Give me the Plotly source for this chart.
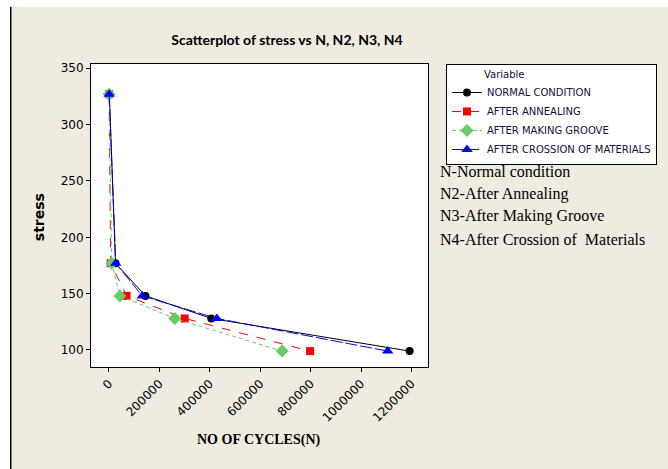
import plotly.graph_objects as go

stress = [327, 177, 148, 128, 99]
n_normal = [1500, 26000, 145000, 406000, 1193000]
n_anneal = [500, 6700, 70000, 300600, 798000]
n_groove = [800, 11000, 43500, 261000, 687000]
n_cross = [1000, 27000, 132000, 428000, 1106000]

series_names = ["NORMAL CONDITION", "AFTER ANNEALING", "AFTER MAKING GROOVE",
                "AFTER CROSSION OF MATERIALS"]
x_ticks = [0, 200000, 400000, 600000, 800000, 1000000, 1200000]
y_ticks = [100, 150, 200, 250, 300, 350]
note_lines = ["N-Normal condition", "N2-After Annealing", "N3-After Making Groove",
              "N4-After Crossion of&nbsp; Materials"]

W, H = 668, 469
L, R, T, B = 91, 429, 64, 367


def px(xp):
    return (xp - L) / (R - L)


def py(yp):
    return (B - yp) / (B - T)


styles = [
    dict(color="black", dash="solid", symbol="circle", size=8),
    dict(color="#FF0000", dash="dash", symbol="square", size=8),
    dict(color="#66CC66", dash="4px,3px", symbol="diamond", size=10),
    dict(color="#0000FF", dash="12px,3px", symbol="triangle-up", size=10),
]
xs = [n_normal, n_anneal, n_groove, n_cross]

fig = go.Figure()
for name, xv, st in zip(series_names, xs, styles):
    fig.add_trace(go.Scatter(
        x=xv, y=stress, name=name, mode="lines+markers",
        line=dict(color=st["color"], dash=st["dash"], width=1),
        marker=dict(color=st["color"], symbol=st["symbol"], size=st["size"]),
    ))

beige = "#EFEBE1"
shapes = [
    dict(type="rect", xref="paper", yref="paper", x0=px(-5), x1=px(10), y0=py(480), y1=py(-5),
         fillcolor="white", line=dict(width=0), layer="below"),
    dict(type="rect", xref="paper", yref="paper", x0=px(-5), x1=px(680), y0=py(7), y1=py(-5),
         fillcolor="white", line=dict(width=0), layer="below"),
    dict(type="line", xref="paper", yref="paper", x0=px(10.5), x1=px(10.5), y0=py(480), y1=py(7),
         line=dict(color="black", width=1.5)),
]

annotations = [
    dict(text="<b>NO OF CYCLES(N)</b>", xref="paper", yref="paper", x=px(258.5), y=py(440),
         showarrow=False, xanchor="center", yanchor="middle",
         font=dict(family="Liberation Serif", size=14, color="black")),
    dict(text="<b>stress</b>", xref="paper", yref="paper", x=px(39), y=py(217),
         showarrow=False, textangle=-90, xanchor="center", yanchor="middle",
         font=dict(family="DejaVu Sans", size=14, color="black")),
]
for i, line in enumerate(note_lines):
    annotations.append(dict(
        text=line, xref="paper", yref="paper", x=px(439), y=py(171.5 + i * 22.5),
        showarrow=False, xanchor="left", yanchor="middle",
        font=dict(family="Liberation Serif", size=16, color="black")))

fig.update_layout(
    width=W, height=H,
    margin=dict(l=L, r=W - R, t=T, b=H - B),
    paper_bgcolor=beige, plot_bgcolor="white",
    title=dict(text="<b>Scatterplot of stress vs N, N2, N3, N4</b>", xref="container",
               yref="container", x=287 / W, y=1 - 40 / H, xanchor="center", yanchor="middle",
               font=dict(family="Lato, sans-serif", size=14, color="black")),
    xaxis=dict(range=[-71200, 1265800], tickvals=x_ticks, ticktext=[str(v) for v in x_ticks],
               tickangle=-45, ticks="outside", ticklen=4, tickcolor="black",
               showline=True, linecolor="black", linewidth=1, mirror=True,
               showgrid=False, zeroline=False,
               tickfont=dict(family="DejaVu Sans", size=12, color="black")),
    yaxis=dict(range=[84.9, 353.8], tickvals=y_ticks, ticks="outside", ticklen=4, tickcolor="black",
               showline=True, linecolor="black", linewidth=1, mirror=True,
               showgrid=False, zeroline=False,
               tickfont=dict(family="DejaVu Sans", size=12, color="black")),
    legend=dict(x=px(446), y=1.0, xanchor="left", yanchor="top",
                bgcolor="white", bordercolor="black", borderwidth=1,
                title=dict(text="&nbsp;" * 11 + "Variable",
                           font=dict(family="DejaVu Sans", size=10, color="#101040")),
                font=dict(family="DejaVu Sans", size=10, color="#101040"),
                tracegroupgap=0, itemwidth=30),
    shapes=shapes, annotations=annotations, showlegend=True,
)

fig.write_html("out.html", config={"displayModeBar": False},
               post_script="document.body.style.margin='0';document.body.style.padding='0';")
